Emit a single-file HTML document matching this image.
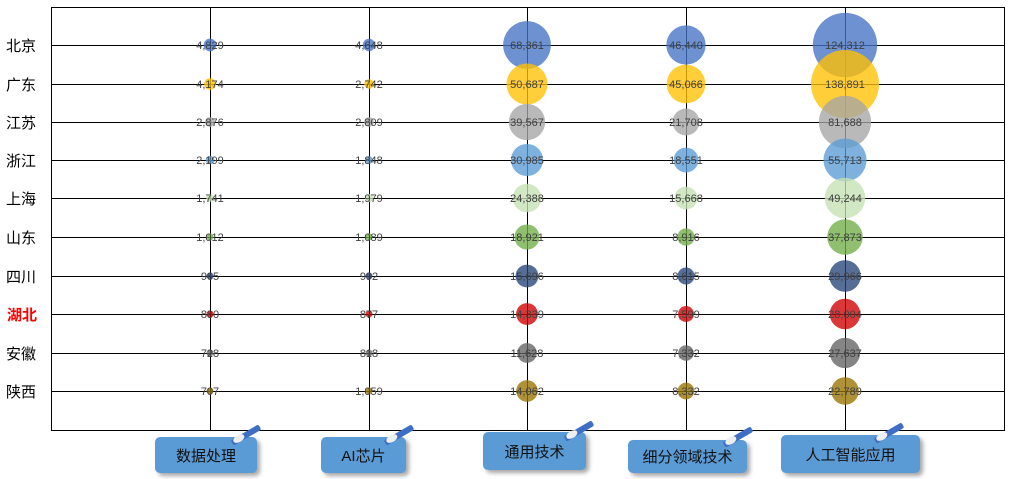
<!DOCTYPE html>
<html><head><meta charset="utf-8"><style>
body{margin:0;background:#fff;width:1013px;height:479px;overflow:hidden;font-family:"Liberation Sans","Noto Sans CJK SC",sans-serif;position:relative}
.btn{position:absolute;background:#5b9bd5;border-radius:5px;box-shadow:3px 3px 4px rgba(0,0,0,0.35);color:#111;font-size:15px;display:flex;align-items:center;justify-content:center}
.pen{position:absolute;width:32px;height:6px;background:#3f6fc4;transform:rotate(-30deg);border-radius:2px}
.pen:after{content:"";position:absolute;left:2px;top:-1px;width:12px;height:7px;background:#eee;border-radius:50%}
</style></head><body>
<svg width="1013" height="479" style="position:absolute;left:0;top:0" id="s">
<rect x="51.5" y="7.5" width="953" height="423" fill="none" stroke="#000" stroke-width="1"/>
<g id="g"></g>
</svg>
<div class="btn" style="left:155px;top:437px;width:102px;height:36px">数据处理</div><div class="pen" style="left:230px;top:432px"></div>
<div class="btn" style="left:321px;top:437px;width:85px;height:36px">AI芯片</div><div class="pen" style="left:383px;top:432px"></div>
<div class="btn" style="left:483px;top:432px;width:103px;height:38px">通用技术</div><div class="pen" style="left:563px;top:428px"></div>
<div class="btn" style="left:628px;top:440px;width:119px;height:33px">细分领域技术</div><div class="pen" style="left:722px;top:434px"></div>
<div class="btn" style="left:781px;top:435px;width:139px;height:38px">人工智能应用</div><div class="pen" style="left:873px;top:430px"></div>
<script>
const prov=["北京","广东","江苏","浙江","上海","山东","四川","湖北","安徽","陕西"];
const ys=[45,84,122,160,198,237,276,314,353,391];
const xs=[210,369,527,686,845];
const cols=["#4472c4","#ffc000","#a5a5a5","#5b9bd5","#c5e0b4","#70ad47","#264478","#d00000","#636363","#997300"];
const d=[[4829,4174,2876,2199,1741,1012,965,880,728,707],
[4648,2742,2809,1848,1979,1089,992,877,818,1059],
[68361,50687,39567,30985,24388,18921,15696,14339,11628,14062],
[46440,45066,21708,18551,15668,8916,8615,7599,7332,8332],
[124312,138891,81688,55713,49244,37873,29966,28004,27637,22789]];
let h="";
ys.forEach((y,i)=>{h+=`<line x1="51" x2="1004" y1="${y+.5}" y2="${y+.5}" stroke="#000"/>`;
h+=`<text x="${i==7?7:6}" y="${y+6}" font-size="15" fill="${i==7?'#ff0000':'#000'}" font-weight="${i==7?'bold':'normal'}" font-family="Liberation Sans,Noto Sans CJK SC,sans-serif">${prov[i]}</text>`});
xs.forEach(x=>h+=`<line x1="${x+.5}" x2="${x+.5}" y1="7" y2="430" stroke="#000"/>`);
d.forEach((c,j)=>c.forEach((v,i)=>{const r=34*Math.sqrt(v/138891);
h+=`<circle cx="${xs[j]}" cy="${ys[i]}" r="${Math.max(r,3.5)}" fill="${cols[i]}" fill-opacity="0.78"/>`;
h+=`<text x="${xs[j]}" y="${ys[i]+4}" font-size="11" fill="#404040" text-anchor="middle" font-family="Liberation Sans,sans-serif">${v.toLocaleString('en-US')}</text>`}));
document.getElementById('g').innerHTML=h;
</script>
</body></html>
